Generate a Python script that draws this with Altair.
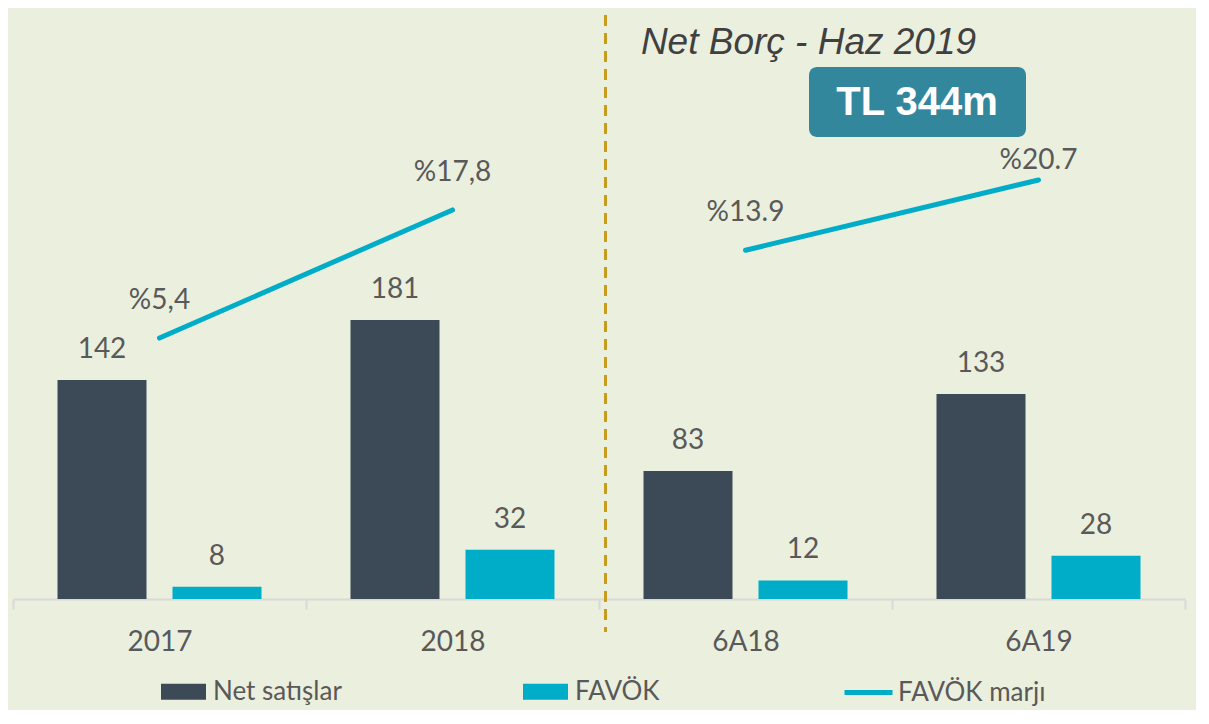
import altair as alt
import pandas as pd

# ---- data ----
categories = ["2017", "2018", "6A18", "6A19"]
net_sales = [142, 181, 83, 133]
favok = [8, 32, 12, 28]
margin = [5.4, 17.8, 13.9, 20.7]
margin_labels = ["%5,4", "%17,8", "%13.9", "%20.7"]
periods = ["Yıllık", "Yıllık", "Altı aylık", "Altı aylık"]
bar_series = ["Net satışlar", "FAVÖK"]
line_series = ["FAVÖK marjı"]
title_text = ["Net Borç - Haz 2019"]
box_text = ["TL 344m"]

DARK = "#3C4A58"
CYAN = "#00ADC8"
BG = "#EBEFDE"
GRAY = "#595959"
AXIS = "#D9D9D9"

bars_df = pd.DataFrame({
    "cat": categories * 2,
    "series": [bar_series[0]] * len(categories) + [bar_series[1]] * len(categories),
    "value": net_sales + favok,
})
line_df = pd.DataFrame({
    "cat": categories,
    "margin": margin,
    "label": margin_labels,
    "period": periods,
    "series": line_series * len(categories),
})

x_enc = alt.X(
    "cat:N", sort=categories,
    scale=alt.Scale(paddingInner=0, paddingOuter=0),
    axis=alt.Axis(title=None, labelAngle=0, tickBand="extent", grid=False),
)
xoff_enc = alt.XOffset("series:N", sort=bar_series,
                       scale=alt.Scale(paddingInner=0.226, paddingOuter=0.387))
y_bar = alt.Y("value:Q", scale=alt.Scale(domain=[0, 383.3], nice=False), axis=None)
y_line = alt.Y("margin:Q", scale=alt.Scale(domain=[-19.86, 37.35], nice=False, zero=False), axis=None)

bars = alt.Chart(bars_df).mark_bar().encode(
    x=x_enc, xOffset=xoff_enc, y=y_bar,
    color=alt.Color("series:N", scale=alt.Scale(domain=bar_series, range=[DARK, CYAN]),
                    legend=alt.Legend(title=None, orient="none", legendX=148, legendY=661,
                                      direction="horizontal",
                                      symbolType="M-1,-0.36H1V0.36H-1Z", symbolSize=2025,
                                      symbolStrokeWidth=0, labelFontSize=26, labelColor=GRAY,
                                      labelOffset=7, columnPadding=181, gridAlign="each",
                                      padding=0, labelLimit=400)),
)
bar_text = alt.Chart(bars_df).mark_text(dy=-30, fontSize=28, color=GRAY, baseline="middle").encode(
    x=x_enc, xOffset=xoff_enc, y=y_bar, text="value:Q",
)

line = alt.Chart(line_df).mark_line(strokeWidth=5, strokeCap="round").encode(
    x=x_enc, y=y_line, detail="period:N",
    stroke=alt.Stroke("series:N", scale=alt.Scale(domain=line_series, range=[CYAN]),
                      legend=alt.Legend(title=None, orient="none", legendX=829, legendY=658,
                                        symbolType="stroke", symbolSize=2304,
                                        symbolStrokeWidth=5, labelFontSize=26,
                                        labelColor=GRAY, labelOffset=3, padding=0,
                                        labelLimit=400)),
)
line_text1 = alt.Chart(line_df).transform_filter(alt.datum.cat != "6A19").mark_text(
    dy=-37, fontSize=28, color=GRAY, baseline="middle").encode(x=x_enc, y=y_line, text="label:N")
line_text2 = alt.Chart(line_df).transform_filter(alt.datum.cat == "6A19").mark_text(
    dy=-19, fontSize=28, color=GRAY, baseline="middle").encode(x=x_enc, y=y_line, text="label:N")

divider = alt.Chart(pd.DataFrame({"d": [0]})).mark_rule(
    strokeDash=[11, 7], strokeWidth=3, color="#C99B1E").encode(
    x=alt.value(592.5), y=alt.value(7), y2=alt.value(624))

title = alt.Chart(pd.DataFrame({"t": title_text})).mark_text(
    font="Liberation Sans", fontStyle="italic", fontSize=37, color="#404040",
    align="center", baseline="alphabetic").encode(
    x=alt.value(795.5), y=alt.value(46), text="t:N")

box = alt.Chart(pd.DataFrame({"t": box_text})).mark_rect(
    cornerRadius=8, color="#33879D").encode(
    x=alt.value(796), x2=alt.value(1013), y=alt.value(59), y2=alt.value(129))
box_label = alt.Chart(pd.DataFrame({"t": box_text})).mark_text(
    font="Liberation Sans", fontWeight="bold", fontSize=40, color="white",
    align="center", baseline="middle").encode(
    x=alt.value(904), y=alt.value(95), text="t:N")

chart = alt.layer(
    alt.layer(bars, bar_text),
    alt.layer(line, line_text1, line_text2),
    divider, title, box, box_label,
).resolve_scale(y="independent").properties(
    width=1172, height=591,
    padding={"left": 4, "top": 0, "right": 10, "bottom": 4},
    background=BG,
).configure(font="Lato").configure_view(stroke="transparent").configure_axis(
    labelFontSize=28, labelColor=GRAY, labelFont="Lato",
    domainColor=AXIS, domainWidth=2, tickColor=AXIS, tickWidth=2, tickSize=10,
    labelPadding=19,
)

chart.save("out.html", embed_options={"renderer": "svg", "actions": False})
